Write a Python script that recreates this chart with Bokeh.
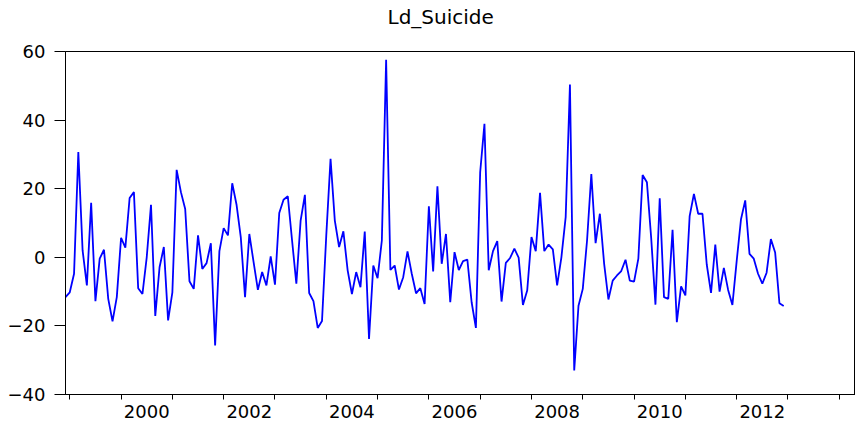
import pandas as pd
from bokeh.plotting import figure
from bokeh.models import FixedTicker, Range1d, ColumnDataSource, Title
from bokeh.embed import file_html
from bokeh.resources import INLINE

# Monthly series Ld_Suicide, starting 1998-12
start_period = "1998-12"
values = [
    -11.6, -10.2, -4.8, 30.7, 2.0, -8.2, 15.9, -12.8, -0.4, 2.2,
    -12.1, -18.7, -11.6, 5.7, 2.8, 17.3, 19.0, -9.0, -10.7, 0.0,
    15.3, -17.1, -2.9, 3.0, -18.4, -10.2, 25.5, 19.0, 14.1, -7.0,
    -9.2, 6.4, -3.4, -1.7, 4.1, -25.7, 1.8, 8.5, 6.4, 21.6,
    15.4, 5.9, -11.6, 6.8, -1.4, -9.5, -4.3, -8.2, 0.3, -8.0,
    12.9, 16.8, 17.8, 4.9, -7.7, 10.7, 18.2, -10.4, -12.8, -20.6,
    -18.6, 6.4, 28.7, 10.7, 3.0, 7.6, -3.8, -10.7, -4.3, -8.7,
    7.5, -23.8, -2.4, -6.1, 4.9, 57.6, -3.7, -2.4, -9.4, -5.8,
    1.7, -4.8, -10.5, -9.0, -13.6, 14.9, -4.1, 20.7, -1.9, 6.8,
    -13.1, 1.5, -3.7, -1.1, -0.7, -13.1, -20.6, 24.8, 38.9, -3.8,
    1.8, 4.7, -12.9, -1.6, -0.2, 2.5, -0.1, -13.9, -9.7, 5.9,
    1.8, 18.8, 1.8, 3.7, 2.3, -8.2, 0.0, 11.7, 50.4, -33.0,
    -14.1, -9.2, 4.9, 24.3, 4.1, 12.7, -1.9, -12.3, -6.8, -5.3,
    -4.0, -0.7, -6.8, -7.1, -0.4, 24.0, 21.9, 5.7, -13.8, 17.2,
    -11.6, -12.1, 8.0, -18.9, -8.5, -11.1, 12.0, 18.5, 12.7, 12.7,
    -2.1, -10.4, 3.7, -10.0, -3.1, -9.5, -13.9, -1.1, 11.0, 16.6,
    1.0, -0.4, -4.8, -7.7, -4.5, 5.3, 1.4, -13.4, -14.2,
]
year_ticks = list(range(1999, 2015))
label_years = [2000, 2002, 2004, 2006, 2008, 2010, 2012]
y_ticks = [-40, -20, 0, 20, 40, 60]
title_text = "Ld_Suicide"

periods = pd.period_range(start_period, periods=len(values), freq="M")
xs = [pr.year + (pr.month - 1) / 12 for pr in periods]
src = ColumnDataSource(dict(x=xs, y=values))

PX_PER_YEAR = 51.3
FRAME_W, FRAME_H = 790, 343
x0 = xs[0]
x1 = x0 + FRAME_W / PX_PER_YEAR
y0, y1 = -40, 60

p = figure(frame_width=FRAME_W, frame_height=FRAME_H, output_backend="svg",
           toolbar_location=None, x_range=Range1d(x0, x1),
           y_range=Range1d(y0, y1), min_border_left=65, min_border_top=51,
           min_border_right=0, min_border_bottom=32)

p.line("x", "y", source=src, line_color="#0000FF", line_width=1.8)

# blank spacer panel between frame and title
spacer = Title(text=" ", text_font_size="10px", standoff=8, text_color="white")
p.add_layout(spacer, "above")
t = Title(text=title_text, align="left", offset=322, vertical_align="top",
          standoff=0, text_font="DejaVu Sans", text_font_size="20px",
          text_font_style="normal", text_color="black")
p.add_layout(t, "above")

p.xgrid.visible = False
p.ygrid.visible = False
p.outline_line_color = "black"
p.outline_line_width = 1
p.background_fill_color = "white"
p.border_fill_color = "white"

label_pos = [y + 0.5 for y in label_years]
xa = p.xaxis[0]
xa.ticker = FixedTicker(ticks=label_pos, minor_ticks=year_ticks)
xa.major_label_overrides = {lp: str(y) for lp, y in zip(label_pos, label_years)}
xa.major_tick_out = 0
xa.major_tick_in = 0
xa.minor_tick_out = 5
xa.minor_tick_in = 0
xa.minor_tick_line_color = "black"
xa.axis_line_color = "black"
xa.major_label_standoff = 5
xa.major_label_text_font = "DejaVu Sans"
xa.major_label_text_font_size = "18px"
xa.major_label_text_color = "black"

ya = p.yaxis[0]
ya.ticker = FixedTicker(ticks=y_ticks)
ya.major_tick_out = 11
ya.major_tick_in = 0
ya.minor_tick_out = 0
ya.minor_tick_in = 0
ya.major_tick_line_color = "black"
ya.axis_line_color = "black"
ya.major_label_standoff = 9
ya.major_label_text_font = "DejaVu Sans"
ya.major_label_text_font_size = "18px"
ya.major_label_text_color = "black"

open("out.html", "w").write(file_html(p, INLINE))
